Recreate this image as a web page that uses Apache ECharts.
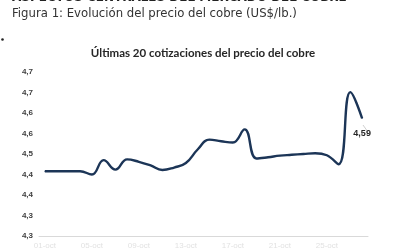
<!DOCTYPE html>
<html>
<head>
<meta charset="utf-8">
<script src="https://cdn.jsdelivr.net/npm/echarts@6/dist/echarts.min.js"></script>
<style>
html,body{margin:0;padding:0;background:#fff;}
#chart{width:400px;height:250px;}
</style>
</head>
<body>
<div id="chart"></div>
<script>
var dates = ['01-oct','02-oct','03-oct','04-oct','05-oct','06-oct','07-oct','08-oct','09-oct','10-oct',
             '11-oct','12-oct','13-oct','14-oct','15-oct','16-oct','17-oct','18-oct','19-oct','20-oct',
             '21-oct','22-oct','23-oct','24-oct','25-oct','26-oct','27-oct','28-oct'];
var prices = [4.458,4.458,4.458,4.458,4.450,4.485,4.462,4.487,4.481,4.472,
              4.461,4.467,4.478,4.511,4.535,4.531,4.528,4.560,4.489,4.492,
              4.496,4.498,4.500,4.502,4.497,4.475,4.651,4.587];
var yTickLabels = ['4,3','4,3','4,4','4,4','4,5','4,6','4,6','4,7','4,7'];
var yMin = 4.30, yMax = 4.70, yStep = 0.05;

var chart = echarts.init(document.getElementById('chart'), null, {renderer:'canvas'});
var lastIdx = prices.length - 1;
chart.setOption({
  animation: false,
  backgroundColor: '#ffffff',
  title: [{
    text: 'Últimas 20 cotizaciones del precio del cobre',
    left: 198, top: 42, textAlign: 'center',
    textStyle: {fontFamily: 'Lato', fontWeight: 'bold', fontSize: 11.5, color: '#262626'}
  }],
  graphic: [
    {type: 'text', left: 12, top: -8.5, style: {text: 'ASPECTOS CENTRALES DEL MERCADO DEL COBRE', font: 'bold 12px "DejaVu Sans"', fill: '#222'}},
    {type: 'text', left: 12, top: 8, style: {text: 'Figura 1: Evolución del precio del cobre (US$/lb.)', font: '11.7px "DejaVu Sans"', fill: '#333'}},
    {type: 'circle', shape: {cx: 2.5, cy: 39.5, r: 1.3}, style: {fill: '#222'}},
    {type: 'line', shape: {x1: 363, y1: 125, x2: 368, y2: 132}, style: {stroke: '#d0d0d0', lineWidth: 1}}
  ],
  grid: {left: 39, right: 32, top: 72, bottom: 9, containLabel: false},
  xAxis: {
    type: 'category', data: dates, boundaryGap: true,
    axisLine: {lineStyle: {color: '#d9d9d9', width: 1}},
    axisTick: {show: false},
    axisLabel: {interval: 3, margin: 6, fontSize: 8, color: '#e2e2e2', fontFamily: 'Liberation Sans'}
  },
  yAxis: {
    type: 'value', min: yMin, max: yMax, interval: yStep,
    axisLine: {show: false}, axisTick: {show: false}, splitLine: {show: false},
    axisLabel: {
      margin: 6, fontSize: 8, fontWeight: 'bold', color: '#404040', fontFamily: 'Liberation Sans',
      formatter: function(v){ var i = Math.round((v - yMin) / yStep); return yTickLabels[i] || ''; }
    }
  },
  series: [{
    type: 'line', data: prices, smooth: 0.45, symbol: 'circle', symbolSize: 1, showSymbol: true,
    showAllSymbol: true,
    itemStyle: {color: '#1c3557'},
    lineStyle: {color: '#1c3557', width: 2.4},
    label: {
      show: true, position: 'bottom', distance: 10, offset: [9, 2],
      color: '#262626', fontWeight: 'bold', fontSize: 9, fontFamily: 'Liberation Sans',
      formatter: function(p){ return p.dataIndex === lastIdx ? p.value.toFixed(2).replace('.', ',') : ''; }
    },
    labelLayout: {hideOverlap: false}
  }]
});
</script>
</body>
</html>
